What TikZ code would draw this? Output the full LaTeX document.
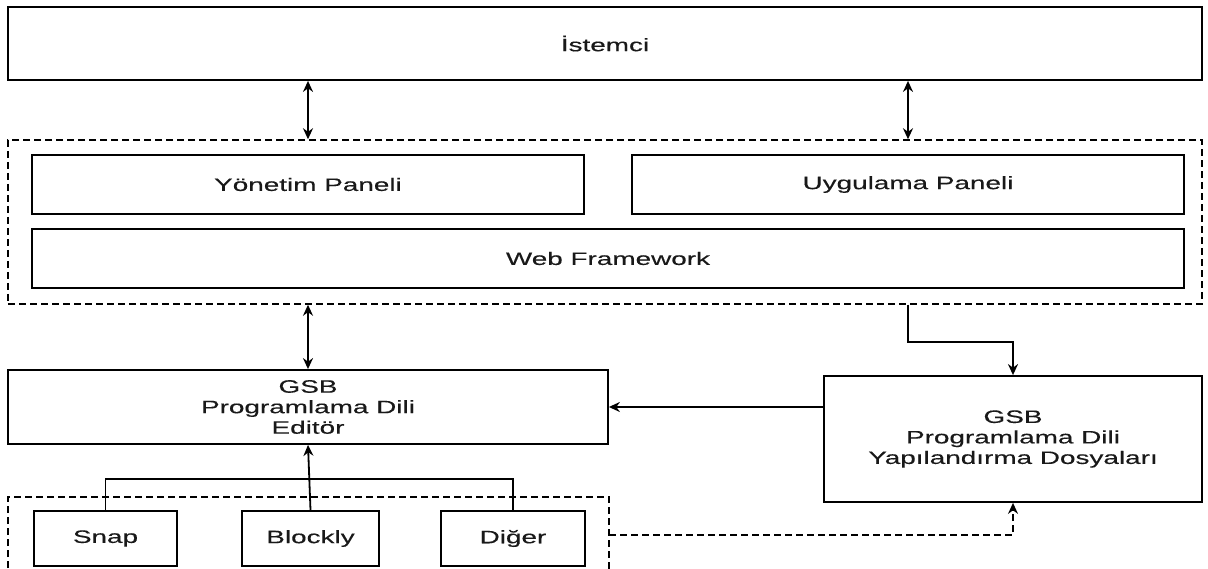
\documentclass[tikz,border=0pt]{standalone}
\usepackage{fontspec}
\setmainfont{Liberation Sans}[FakeStretch=1.55,FakeBold=0.25]
\usetikzlibrary{arrows.meta,calc}
\begin{document}
\begin{tikzpicture}[x=1pt,y=-1pt,
  box/.style={draw, line width=1.8pt, inner sep=0pt, font=\fontsize{18}{20.5}\selectfont, align=center, text=black!90},
  dashbox/.style={draw, line width=1.5pt, dash pattern=on 7pt off 4pt, inner sep=0pt},
  conn/.style={line width=1.8pt},
  arr/.style={conn, -{Stealth[length=11pt,width=10pt]}},
  darr/.style={conn, {Stealth[length=11pt,width=10pt]}-{Stealth[length=11pt,width=10pt]}},
  dasharr/.style={line width=1.5pt, dash pattern=on 7pt off 4pt, -{Stealth[length=11pt,width=10pt]}}]
\useasboundingbox (0,0) rectangle (1208,569);
\clip (0,0) rectangle (1208,569);
\fill[white] (0,0) rectangle (1208,569);
% nodes
\node[box, minimum width=1194pt, minimum height=73pt] (ist) at (605,43.5) {İstemci};
\node[dashbox, minimum width=1194pt, minimum height=164pt] (cont) at (605,222) {};
\node[box, minimum width=552pt, minimum height=59pt] (yon) at (308,184.5) {Yönetim Paneli};
\node[box, minimum width=552pt, minimum height=59pt] (uyg) at (908,184.5) {Uygulama Paneli};
\node[box, minimum width=1152pt, minimum height=59pt] (web) at (608,258.5) {Web Framework};
\node[box, minimum width=600pt, minimum height=74pt] (edit) at (308,407) {GSB\\Programlama Dili\\Editör};
\node[box, minimum width=378pt, minimum height=126pt] (conf) at (1013,439) {GSB\\Programlama Dili\\Yapılandırma Dosyaları};
\node[box, minimum width=143pt, minimum height=55pt] (snap) at (105.5,538.5) {Snap};
\node[box, minimum width=137pt, minimum height=55pt] (blockly) at (310.5,538.5) {Blockly};
\node[box, minimum width=144pt, minimum height=55pt] (diger) at (513,538.5) {Diğer};
% lower dashed group (cut off at bottom)
\coordinate (gbl) at (8,590);
\coordinate (gtl) at (8,497);
\coordinate (gtr) at (609,497);
\coordinate (gbr) at (609,590);
\coordinate (gout) at (609,535);
\draw[line width=1.5pt, dash pattern=on 7pt off 4pt] (gbl) -- (gtl) -- (gtr) -- (gbr);
% connectors
\draw[darr] (yon.north |- ist.south) -- (yon.north |- cont.north);
\draw[darr] (uyg.north |- ist.south) -- (uyg.north |- cont.north);
\draw[darr] (edit.north |- cont.south) -- (edit.north);
\draw[arr] (uyg.south |- cont.south) -- ++(0,37) -| (conf.north);
\draw[arr] (conf.west |- edit.east) -- (edit.east);
\draw[conn] (snap.north) -- ++(0,-31) -| (diger.north);
\draw[arr] (blockly.north) -- (edit.south);
\draw[dasharr] (gout) -| (conf.south);
\end{tikzpicture}
\end{document}
